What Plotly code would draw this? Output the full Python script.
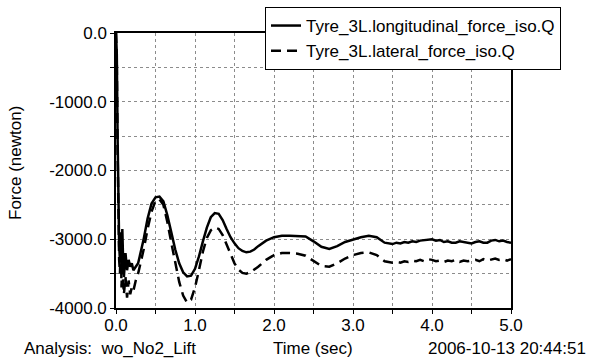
import plotly.graph_objects as go

# ---- data ----
time_long = [0.00, 0.01, 0.02, 0.03, 0.04, 0.05, 0.06, 0.07, 0.08, 0.09, 0.10, 0.12, 0.14, 0.16,
             0.18, 0.20, 0.22, 0.25, 0.28, 0.30, 0.35, 0.40, 0.45, 0.50, 0.55, 0.60, 0.65, 0.70,
             0.75, 0.80, 0.85, 0.90, 0.95, 1.00, 1.05, 1.10, 1.15, 1.20, 1.25, 1.30, 1.35, 1.40,
             1.45, 1.50, 1.55, 1.60, 1.65, 1.70, 1.75, 1.80, 1.90, 2.00, 2.10, 2.20, 2.30, 2.40,
             2.50, 2.60, 2.70, 2.80, 2.90, 3.00, 3.10, 3.20, 3.30, 3.40, 3.50, 3.55, 3.60, 3.65,
             3.70, 3.75, 3.80, 3.85, 3.90, 3.95, 4.00, 4.05, 4.10, 4.15, 4.20, 4.25, 4.30, 4.35,
             4.40, 4.45, 4.50, 4.55, 4.60, 4.65, 4.70, 4.75, 4.80, 4.85, 4.90, 4.95, 5.00]
force_long = [0, -300, -1500, -2600, -3100, -3300, -2900, -3500, -2850, -3300, -3550, -3200, -3450, -3300,
              -3400, -3350, -3450, -3400, -3350, -3250, -3000, -2700, -2480, -2390, -2380, -2450, -2650, -2900,
              -3150, -3350, -3480, -3540, -3530, -3430, -3250, -3030, -2830, -2680, -2620, -2630, -2720, -2850,
              -2970, -3060, -3130, -3170, -3190, -3180, -3150, -3100, -3020, -2970, -2950, -2950, -2950, -2960,
              -3030, -3110, -3140, -3100, -3040, -3000, -2970, -2950, -2970, -3050, -3070, -3050, -3060, -3040,
              -3050, -3030, -3040, -3020, -3010, -3000, -3000, -3020, -3010, -3040, -3030, -3050, -3050, -3030,
              -3040, -3060, -3060, -3040, -3030, -3050, -3050, -3020, -3010, -3030, -3020, -3040, -3050]

time_lat = [0.00, 0.01, 0.02, 0.03, 0.04, 0.05, 0.06, 0.07, 0.08, 0.09, 0.10, 0.12, 0.14, 0.16,
            0.18, 0.20, 0.22, 0.25, 0.28, 0.30, 0.35, 0.40, 0.45, 0.50, 0.55, 0.60, 0.65, 0.70,
            0.75, 0.80, 0.85, 0.90, 0.95, 1.00, 1.05, 1.10, 1.15, 1.20, 1.25, 1.30, 1.35, 1.40,
            1.45, 1.50, 1.55, 1.60, 1.65, 1.70, 1.80, 1.90, 2.00, 2.10, 2.20, 2.30, 2.40, 2.50,
            2.60, 2.70, 2.80, 2.90, 3.00, 3.10, 3.20, 3.30, 3.40, 3.50, 3.55, 3.60, 3.65, 3.70,
            3.75, 3.80, 3.85, 3.90, 3.95, 4.00, 4.05, 4.10, 4.15, 4.20, 4.25, 4.30, 4.35, 4.40,
            4.45, 4.50, 4.55, 4.60, 4.65, 4.70, 4.75, 4.80, 4.85, 4.90, 4.95, 5.00]
force_lat = [0, -400, -1700, -2800, -3300, -3500, -3000, -3700, -3200, -3600, -3800, -3550, -3850, -3600,
             -3800, -3700, -3750, -3600, -3500, -3400, -3150, -2850, -2600, -2440, -2420, -2500, -2750, -3050,
             -3350, -3620, -3820, -3920, -3880, -3700, -3450, -3180, -2980, -2870, -2830, -2850, -2940, -3080,
             -3230, -3350, -3440, -3490, -3500, -3480, -3400, -3300, -3230, -3200, -3200, -3210, -3240, -3320,
             -3390, -3400, -3350, -3280, -3230, -3200, -3190, -3230, -3320, -3340, -3330, -3340, -3320, -3330,
             -3310, -3320, -3300, -3320, -3290, -3300, -3320, -3310, -3330, -3310, -3320, -3300, -3330, -3310,
             -3320, -3310, -3300, -3320, -3290, -3310, -3300, -3280, -3300, -3290, -3310, -3290]

x_tick_vals = [0, 1, 2, 3, 4, 5]
x_tick_text = ["0.0", "1.0", "2.0", "3.0", "4.0", "5.0"]
y_tick_vals = [0, -1000, -2000, -3000, -4000]
y_tick_text = ["0.0", "-1000.0", "-2000.0", "-3000.0", "-4000.0"]

FONT = "Liberation Sans, Arial, sans-serif"

fig = go.Figure()
fig.add_trace(go.Scatter(x=time_long, y=force_long, mode="lines",
                         name="Tyre_3L.longitudinal_force_iso.Q",
                         line=dict(color="black", width=2.5)))
fig.add_trace(go.Scatter(x=time_lat, y=force_lat, mode="lines",
                         name="Tyre_3L.lateral_force_iso.Q",
                         line=dict(color="black", width=2.5, dash="10px,6px")))

axis_common = dict(showline=True, linecolor="black", linewidth=1.5, mirror=True,
                   showgrid=True, gridcolor="#8c8c8c", griddash="dot", gridwidth=1,
                   ticks="outside", ticklen=4, tickcolor="black", zeroline=False,
                   tickfont=dict(family=FONT, size=17, color="black"))

fig.update_xaxes(range=[0, 5], tickvals=x_tick_vals, ticktext=x_tick_text,
                 ticklabelstandoff=-3,
                 minor=dict(dtick=0.5, showgrid=True, gridcolor="#8c8c8c", griddash="dot",
                            ticks="outside", ticklen=4, tickcolor="black"),
                 **axis_common)
fig.update_yaxes(range=[-4000, 0], tickvals=y_tick_vals, ticktext=y_tick_text,
                 minor=dict(dtick=500, showgrid=True, gridcolor="#8c8c8c", griddash="dot",
                            ticks="outside", ticklen=4, tickcolor="black"),
                 **axis_common)

fig.update_layout(
    width=590, height=360,
    margin=dict(l=116, r=79, t=33, b=52, autoexpand=False),
    paper_bgcolor="white", plot_bgcolor="white",
    font=dict(family=FONT, size=17, color="black"),
    showlegend=True,
    legend=dict(x=(265 - 116) / 395, y=(308 - 7) / 275, xanchor="left", yanchor="top",
                bgcolor="white", bordercolor="black", borderwidth=1,
                font=dict(family=FONT, size=17, color="black"),
                tracegroupgap=0, itemwidth=30),
    annotations=[
        dict(text="Force (newton)", xref="paper", yref="paper", x=(15 - 116) / 395,
             y=(308 - 163) / 275, textangle=-90, showarrow=False,
             xanchor="center", yanchor="middle", font=dict(size=17)),
        dict(text="Analysis:\u00a0 wo_No2_Lift", xref="paper", yref="paper",
             x=(22 - 116) / 395, y=(308 - 348) / 275, showarrow=False,
             xanchor="left", yanchor="middle", font=dict(size=17)),
        dict(text="Time (sec)", xref="paper", yref="paper",
             x=(313 - 116) / 395, y=(308 - 348) / 275, showarrow=False,
             xanchor="center", yanchor="middle", font=dict(size=17)),
        dict(text="2006-10-13 20:44:51", xref="paper", yref="paper",
             x=(588 - 116) / 395, y=(308 - 348) / 275, showarrow=False,
             xanchor="right", yanchor="middle", font=dict(size=17)),
    ],
)

fig.write_html("out.html")
